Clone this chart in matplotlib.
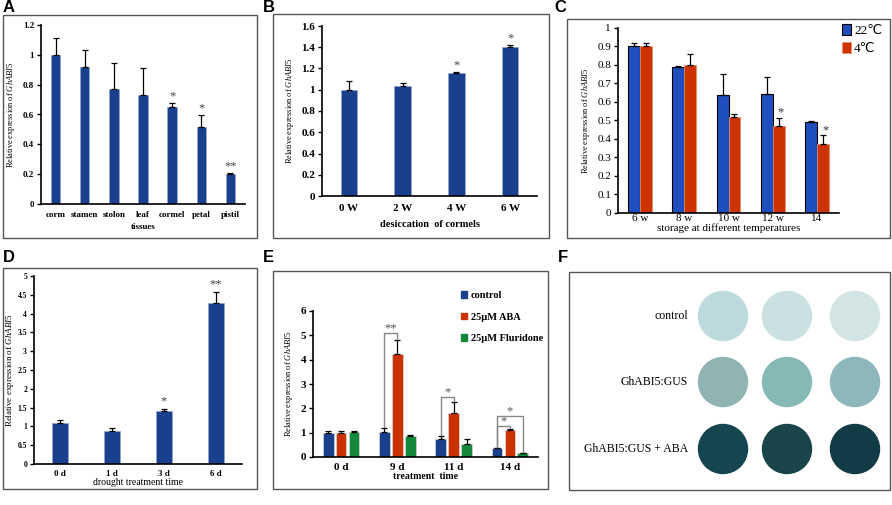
import matplotlib
matplotlib.use("Agg")
import matplotlib.pyplot as plt
import numpy as np
from matplotlib.patches import Rectangle, Circle, Patch

plt.rcParams["font.family"] = ["Liberation Serif", "DejaVu Sans"]
plt.rcParams["mathtext.fontset"] = "custom"
plt.rcParams["mathtext.it"] = "Liberation Serif:italic"
plt.rcParams["mathtext.rm"] = "Liberation Serif"

W, H = 892, 505

# panel A
tissues = ["corm", "stamen", "stolon", "leaf", "cormel", "petal", "pistil"]
a_vals = [1.0, 0.92, 0.77, 0.73, 0.65, 0.515, 0.2]
a_err = [0.11, 0.11, 0.175, 0.18, 0.03, 0.085, 0.01]
a_sig = ["", "", "", "", "*", "*", "**"]

# panel B
weeks = ["0 W", "2 W", "4 W", "6 W"]
b_vals = [1.0, 1.04, 1.16, 1.40]
b_err = [0.08, 0.02, 0.01, 0.025]
b_sig = ["", "", "*", "*"]

# panel C
storage = ["6 w", "8 w", "10 w", "12 w", "14"]
c_warm = [0.90, 0.79, 0.64, 0.645, 0.49]
c_warm_err = [0.02, 0.005, 0.11, 0.09, 0.005]
c_cold = [0.90, 0.80, 0.52, 0.47, 0.375]
c_cold_err = [0.02, 0.06, 0.015, 0.045, 0.045]
c_sig = ["", "", "", "*", "*"]

# panel D
days_d = ["0 d", "1 d", "3 d", "6 d"]
d_vals = [1.1, 0.87, 1.42, 4.28]
d_err = [0.08, 0.08, 0.05, 0.3]
d_sig = ["", "", "*", "**"]

# panel E
days_e = ["0 d", "9 d", "11 d", "14 d"]
e_control = [1.0, 1.02, 0.75, 0.35]
e_control_err = [0.08, 0.17, 0.1, 0.04]
e_aba = [1.0, 4.25, 1.8, 1.1]
e_aba_err = [0.08, 0.57, 0.48, 0.07]
e_flu = [1.02, 0.85, 0.55, 0.15]
e_flu_err = [0.06, 0.05, 0.17, 0.02]
e_labels = ["control", "25\u03bcM ABA", "25\u03bcM Fluridone"]

# panel F
f_rows = ["control", "GhABI5:GUS", "GhABI5:GUS + ABA"]
f_colors = [["#bcdadb", "#cae0e1", "#d2e5e4"],
            ["#8fb4b2", "#86b8b5", "#8db7bb"],
            ["#15464f", "#18444a", "#123c45"]]

NAVY = "#1a3f8c"
BLUE = "#1f4fbf"
RED = "#cc3300"
GREEN = "#13883a"
YLAB = "Relative expression of $\\it{GhABI5}$"


def rect(x0, y0, x1, y1):
    return [x0 / W, 1 - y1 / H, (x1 - x0) / W, (y1 - y0) / H]


def frame(fig, x0, y0, x1, y1, letter, lx, ly):
    fig.patches.append(Rectangle((x0 / W, 1 - y1 / H), (x1 - x0) / W,
                                 (y1 - y0) / H, transform=fig.transFigure,
                                 fill=False, edgecolor="#555555", lw=1.0))
    fig.text(lx / W, 1 - ly / H, letter, family="Liberation Sans",
             weight="bold", fontsize=12, va="center", ha="left")


def style(ax, fs, bold=False):
    for s in ["top", "right"]:
        ax.spines[s].set_visible(False)
    for s in ["left", "bottom"]:
        ax.spines[s].set_linewidth(1.2)
    ax.tick_params(axis="y", labelsize=fs, length=3, width=1, pad=2)
    ax.tick_params(axis="x", labelsize=fs, length=0, pad=4)
    if bold:
        for t in ax.get_xticklabels() + ax.get_yticklabels():
            t.set_fontweight("bold")


def simple_bars(ax, labels, vals, errs, sig, width, color, star_pad, star_fs):
    x = np.arange(len(labels))
    ax.bar(x, vals, width, color=color, edgecolor="#8fa6cf", lw=0.6)
    ax.errorbar(x, vals, yerr=[np.zeros(len(vals)), errs], fmt="none",
                ecolor="black", elinewidth=0.9, capsize=2.5, capthick=0.9)
    for xi, v, e, s in zip(x, vals, errs, sig):
        if s:
            ax.text(xi, v + e + star_pad, s, ha="center", va="bottom",
                    fontsize=star_fs, color="#444444")
    ax.set_xticks(x)
    ax.set_xticklabels(labels)
    ax.set_xlim(-0.5, len(labels) - 0.5)


fig = plt.figure(figsize=(W / 100, H / 100), dpi=100)

# ---- A ----
frame(fig, 3, 15, 257, 238, "A", 3, 8)
ax = fig.add_axes(rect(41, 25, 245, 204))
simple_bars(ax, tissues, a_vals, a_err, a_sig, 0.32, NAVY, 0.0, 9)
ax.set_ylim(0, 1.2)
ax.set_yticks(np.arange(0, 1.21, 0.2))
ax.set_yticklabels(["0", "0.2", "0.4", "0.6", "0.8", "1", "1.2"])
style(ax, 6.5, bold=True)
ax.tick_params(axis="x", pad=5)
ax.set_ylabel(YLAB, fontsize=6, labelpad=4)
ax.set_xlabel("tissues", fontsize=6.5, weight="bold", labelpad=3)

# ---- B ----
frame(fig, 273, 14, 549, 238, "B", 263, 8)
ax = fig.add_axes(rect(322, 26, 537, 196))
simple_bars(ax, weeks, b_vals, b_err, b_sig, 0.31, NAVY, 0.0, 9)
ax.set_ylim(0, 1.6)
ax.set_yticks(np.arange(0, 1.61, 0.2))
ax.set_yticklabels(["0", "0.2", "0.4", "0.6", "0.8", "1", "1.2", "1.4", "1.6"])
style(ax, 8, bold=True)
ax.tick_params(axis="x", pad=6)
ax.set_ylabel(YLAB, fontsize=6, labelpad=4)
ax.set_xlabel("desiccation  of cormels", fontsize=7.5, weight="bold",
              labelpad=5)

# ---- C ----
frame(fig, 567, 19, 890, 238, "C", 554, 8)
ax = fig.add_axes(rect(618, 28, 839, 213))
x = np.arange(len(storage))
bw = 0.27
ax.bar(x - bw / 2, c_warm, bw, color=BLUE, edgecolor="black", lw=0.8,
       label="22\u2103")
ax.bar(x + bw / 2, c_cold, bw, color=RED, edgecolor="#e8906a", lw=0.6,
       label="4\u2103")
ax.errorbar(x - bw / 2, c_warm, yerr=[np.zeros(5), c_warm_err], fmt="none",
            ecolor="black", elinewidth=0.9, capsize=2.5, capthick=0.9)
ax.errorbar(x + bw / 2, c_cold, yerr=[np.zeros(5), c_cold_err], fmt="none",
            ecolor="black", elinewidth=0.9, capsize=2.5, capthick=0.9)
for xi, v, e, s in zip(x, c_cold, c_cold_err, c_sig):
    if s:
        ax.text(xi + bw / 2 + 0.05, v + e - 0.005, s, ha="center",
                va="bottom", fontsize=9, color="#333333")
ax.set_xticks(x)
ax.set_xticklabels(storage)
ax.set_xlim(-0.5, len(storage) - 0.5)
ax.set_ylim(0, 1.0)
ax.set_yticks(np.arange(0, 1.01, 0.1))
ax.set_yticklabels(["0", "0.1", "0.2", "0.3", "0.4", "0.5", "0.6", "0.7",
                    "0.8", "0.9", "1"])
style(ax, 8)
ax.tick_params(axis="x", pad=1)
ax.set_ylabel(YLAB, fontsize=6, labelpad=4)
ax.set_xlabel("storage at different temperatures", fontsize=8, labelpad=0)
ax.legend(loc="upper left", bbox_to_anchor=(0.99, 1.05), frameon=False,
          handlelength=0.7, handleheight=0.9, handletextpad=0.2,
          labelspacing=0.4, borderaxespad=0,
          prop={"family": ["Liberation Serif", "DejaVu Sans"], "size": 9.5})

# ---- D ----
frame(fig, 3, 268, 257, 489, "D", 3, 258)
ax = fig.add_axes(rect(34, 276, 242, 464))
simple_bars(ax, days_d, d_vals, d_err, d_sig, 0.32, NAVY, 0.05, 9)
ax.set_ylim(0, 5)
ax.set_yticks(np.arange(0, 5.01, 0.5))
ax.set_yticklabels(["0", "0.5", "1", "1.5", "2", "2.5", "3", "3.5", "4",
                    "4.5", "5"])
style(ax, 5.5, bold=True)
ax.tick_params(axis="x", labelsize=6.5)
ax.set_ylabel(YLAB, fontsize=6.5, labelpad=1)
ax.set_xlabel("drought treatment time", fontsize=7, labelpad=0)

# ---- E ----
frame(fig, 273, 271, 548, 489, "E", 263, 258)
ax = fig.add_axes(rect(313, 311, 538, 457))
x = np.arange(len(days_e))
off = 0.23
bw = 0.19
series = [(e_control, e_control_err, NAVY), (e_aba, e_aba_err, RED),
          (e_flu, e_flu_err, GREEN)]
for k, (vals, errs, col) in enumerate(series):
    pos = x + (k - 1) * off
    ax.bar(pos, vals, bw, color=col, edgecolor="#d8d8d8", lw=0.5)
    ax.errorbar(pos, vals, yerr=[np.zeros(4), errs], fmt="none",
                ecolor="black", elinewidth=0.9, capsize=2, capthick=0.9)

# significance brackets: (group, series i, series j, top, left end, right end, label)
brackets = [(1, 0, 1, 5.1, 1.25, 4.85, "**"),
            (2, 0, 1, 2.47, 0.9, 2.3, "*"),
            (3, 0, 1, 1.27, 0.42, 1.18, "*"),
            (3, 0, 2, 1.69, 0.42, 0.2, "*")]
for g, i, j, top, yl, yr, lab in brackets:
    xl = g + (i - 1) * off
    xr = g + (j - 1) * off
    ax.plot([xl, xl, xr, xr], [yl, top, top, yr], color="#888888", lw=1.0,
            clip_on=False)
    ax.text((xl + xr) / 2, top - 0.05, lab, ha="center", va="bottom",
            fontsize=9, color="#555555")
ax.set_xticks(x)
ax.set_xticklabels(days_e)
ax.set_xlim(-0.5, len(days_e) - 0.5)
ax.set_ylim(0, 6)
ax.set_yticks(np.arange(0, 7, 1))
style(ax, 8, bold=True)
ax.set_ylabel(YLAB, fontsize=6, labelpad=4)
ax.set_xlabel("treatment  time", fontsize=7, weight="bold", labelpad=0)
handles = [Patch(color=c) for _, _, c in series]
fig.legend(handles, e_labels, loc="upper left",
           bbox_to_anchor=(457 / W, 1 - 287 / H), frameon=False,
           handlelength=0.6, handleheight=0.6, handletextpad=0.3,
           labelspacing=1.2, borderaxespad=0,
           prop={"family": "Liberation Serif", "weight": "bold", "size": 7.5})

# ---- F ----
frame(fig, 569, 272, 890, 490, "F", 558, 258)
ax = fig.add_axes(rect(569, 272, 890, 490))
ax.set_xlim(569, 890)
ax.set_ylim(490, 272)
ax.axis("off")
col_x = [723, 787, 855]
row_y = [316, 382, 449]
for r, (name, cols) in enumerate(zip(f_rows, f_colors)):
    for c, col in enumerate(cols):
        ax.add_patch(Circle((col_x[c], row_y[r]), 24.5, color=col))
    ax.text(688, row_y[r], name, ha="right", va="center", fontsize=8.5)

fig.savefig("out.png", dpi=100)
